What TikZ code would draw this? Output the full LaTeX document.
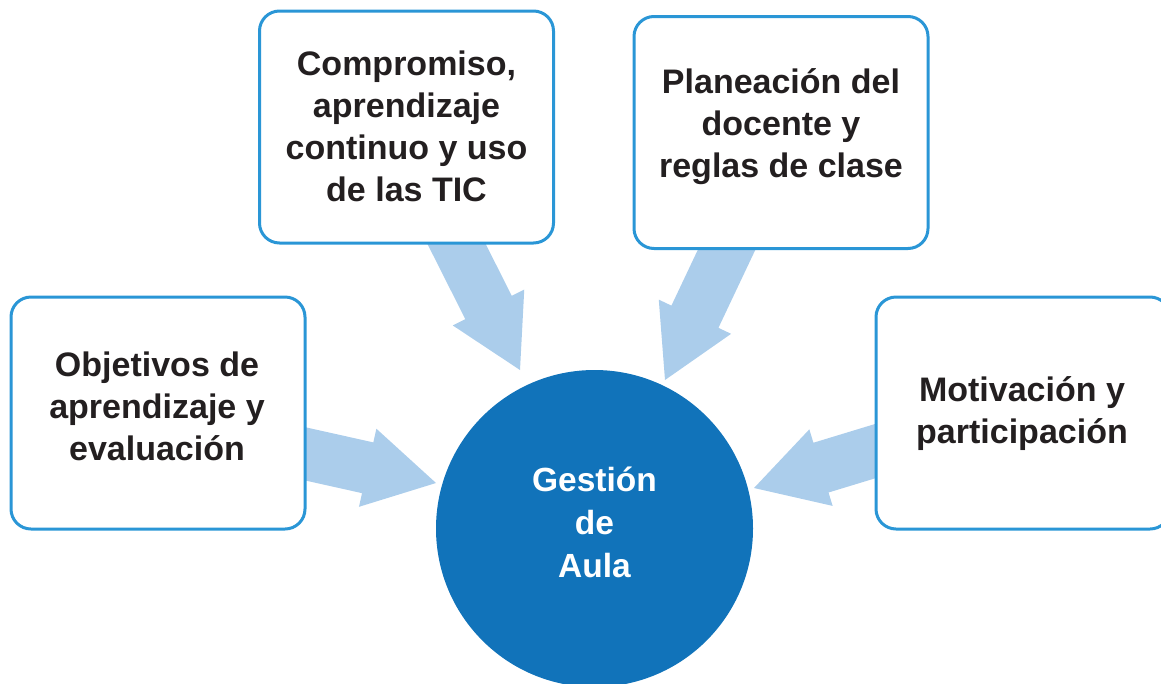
\documentclass[tikz,border=0pt]{standalone}
\usepackage{fontspec}
\setmainfont{Liberation Sans}
\usetikzlibrary{calc}
\definecolor{boxblue}{HTML}{2A96D6}
\definecolor{circblue}{HTML}{1173BA}
\definecolor{arrowblue}{HTML}{ABCDEB}
\definecolor{txtcol}{HTML}{231F20}
\newcommand\blockarrow[2]{%
  \coordinate (#2-base) at ($(#2)!70pt!(#1)$);
  \fill[arrowfill] ($(#1)!26pt!90:(#2)$) -- ($(#2-base)!26pt!90:(#2)$) -- ($(#2-base)!40pt!90:(#2)$) -- (#2) -- ($(#2-base)!40pt!-90:(#2)$) -- ($(#2-base)!26pt!-90:(#2)$) -- ($(#1)!26pt!-90:(#2)$) -- cycle;}
\begin{document}
\begin{tikzpicture}[x=1pt,y=-1pt,
  arrowfill/.style={fill=arrowblue},
  box/.style={draw=boxblue, line width=3pt, rounded corners=20pt, fill=white, inner sep=0pt, minimum width=294pt, minimum height=232pt},
  lbl/.style={align=center, text=txtcol, font=\fontsize{34}{42}\selectfont\bfseries, inner sep=0pt},
  clbl/.style={align=center, text=white, font=\fontsize{33.5}{43}\selectfont\bfseries, inner sep=0pt}]
\useasboundingbox (0,0) rectangle (1161,683);
\clip (0,0) rectangle (1161,683);
% arrow end points
\coordinate (a1s) at (288,450); \coordinate (a1t) at (436,483);
\coordinate (a2s) at (447,225); \coordinate (a2t) at (520,370);
\coordinate (a3s) at (735,232); \coordinate (a3t) at (665,380);
\coordinate (a4s) at (892,446); \coordinate (a4t) at (754,488);
\blockarrow{a1s}{a1t}
\blockarrow{a2s}{a2t}
\blockarrow{a3s}{a3t}
\blockarrow{a4s}{a4t}
% boxes
\node[box] (b1) at (158,413) {};
\node[box] (b2) at (406.5,127) {};
\node[box] (b3) at (781,132.5) {};
\node[box] (b4) at (1023,413) {};
% texts
\node[lbl] (t1) at (157,406) {Objetivos de\\aprendizaje y\\evaluación};
\node[lbl] (t2) at (406.5,126) {Compromiso,\\aprendizaje\\continuo y uso\\de las TIC};
\node[lbl] (t3) at (781,127) {Planeación del\\docente y\\reglas de clase};
\node[lbl] (t4) at (1022,413.5) {Motivación y\\participación};
% circle
\node[circle, fill=circblue, minimum size=317pt, inner sep=0pt] (g) at (594.5,528.5) {};
\node[clbl] (gt) at (594.5,522.5) {Gestión\\de\\Aula};
\end{tikzpicture}
\end{document}
